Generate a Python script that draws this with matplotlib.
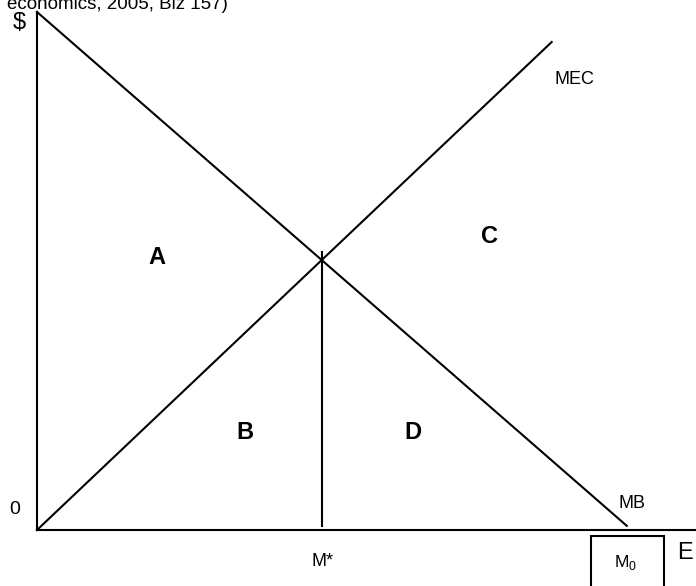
import matplotlib
matplotlib.use("Agg")
import matplotlib.pyplot as plt
from matplotlib.patches import Rectangle

plt.rcParams['font.family'] = ['Liberation Sans', 'DejaVu Sans']
plt.rcParams['mathtext.fontset'] = 'custom'
plt.rcParams['mathtext.rm'] = 'Liberation Sans'

# Data (axis units: 0..100 on both axes)
mb_x = [0, 89.5]
mb_y = [100, 0.8]
mec_x = [0, 78.1]
mec_y = [0, 94.2]
mstar_x = [43.2, 43.2]
mstar_y = [0.8, 53.7]

area_labels = ['A', 'B', 'C', 'D']
area_x = [18.2, 31.6, 68.7, 57.1]
area_y = [52.7, 18.9, 56.6, 18.9]

fig = plt.figure(figsize=(6.96, 5.86), dpi=100)
W, H = 696, 586
ax = fig.add_axes([37 / W, (H - 530) / H, 659 / W, 518 / H])
ax.set_xlim(0, 100)
ax.set_ylim(0, 100)
for s in ['top', 'right']:
    ax.spines[s].set_visible(False)
for s in ['left', 'bottom']:
    ax.spines[s].set_linewidth(1.5)
    ax.spines[s].set_color('black')
ax.set_xticks([])
ax.set_yticks([])

lw = 1.5
ax.plot(mb_x, mb_y, color='black', lw=lw, clip_on=False)
ax.plot(mec_x, mec_y, color='black', lw=lw, clip_on=False)
ax.plot(mstar_x, mstar_y, color='black', lw=lw, clip_on=False)

for lab, x, y in zip(area_labels, area_x, area_y):
    ax.text(x, y, lab, fontsize=17, fontweight='bold', ha='center', va='center')

ax.text(81.5, 86.9, 'MEC', fontsize=13, ha='center', va='center')
ax.text(90.3, 5.2, 'MB', fontsize=13, ha='center', va='center')

# figure-pixel text helper
def ftext(px, py, s, **kw):
    fig.text(px / W, 1 - py / H, s, **kw)

ftext(7, 9, 'economics, 2005, Biz 157)', fontsize=13.5, ha='left', va='baseline')
ftext(19, 23, '$', fontsize=17, ha='center', va='center')
ftext(15, 510, '0', fontsize=14, ha='center', va='center')
ftext(323, 562, 'M*', fontsize=13, ha='center', va='center')
ftext(685, 553, 'E', fontsize=17, ha='center', va='center')
ftext(626, 563, r'M$_\mathrm{0}$', fontsize=12.5, ha='center', va='center')

box = Rectangle((591 / W, 1 - 600 / H), 73 / W, 64 / H, transform=fig.transFigure,
                fill=False, edgecolor='black', lw=1.5, clip_on=False)
fig.patches.append(box)

fig.savefig('out.png', dpi=100)
